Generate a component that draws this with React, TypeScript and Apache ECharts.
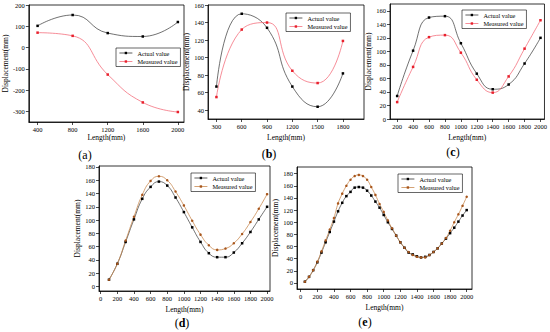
import React, { useEffect, useRef } from "react";
import * as echarts from "echarts";

// ---- data ----
const xA = [400, 800, 1200, 1600, 2000];
const actualA = [102, 153, 68, 52, 120];
const measuredA = [70, 55, -127, -258, -303];

const xB = [300, 600, 900, 1200, 1500, 1800];
const actualB = [67, 150, 134, 67, 44, 82];
const measuredB = [55, 132, 140, 85, 71, 119];

const xC = [200, 400, 600, 800, 1000, 1200, 1400, 1600, 1800, 2000];
const actualC = [34, 101, 150, 152, 112, 67, 44, 51, 82, 120];
const measuredC = [25, 77, 121, 124, 98, 58, 39, 63, 104, 146];

const xD = [100, 200, 300, 400, 500, 600, 700, 800, 900, 1000, 1100, 1200, 1300, 1400, 1500, 1600, 1700, 1800, 1900, 2000];
const actualD = [10, 34, 67, 101, 132, 150, 158, 152, 134, 112, 89, 67, 50, 44, 44, 51, 65, 82, 101, 120];
const measuredD = [10, 34, 69, 105, 138, 159, 166, 160, 143, 122, 99, 78, 62, 55, 57, 65, 79, 97, 117, 139];

const xE = [50, 100, 150, 200, 250, 300, 350, 400, 450, 500, 550, 600, 650, 700, 750, 800, 850, 900, 950, 1000,
  1050, 1100, 1150, 1200, 1250, 1300, 1350, 1400, 1450, 1500, 1550, 1600, 1650, 1700, 1750, 1800, 1850, 1900, 1950, 2000];
const actualE = [2, 10, 21, 34, 50, 67, 84, 101, 118, 132, 143, 150, 157, 158, 157, 152, 144, 134, 124, 112,
  100, 89, 78, 67, 58, 50, 47, 44, 42, 43, 46, 51, 57, 65, 73, 82, 91, 101, 111, 120];
const measuredE = [2, 10, 21, 35, 52, 70, 88, 107, 131, 147, 160, 170, 176, 178, 176, 170, 158, 145, 130, 117,
  103, 90, 78, 67, 58, 51, 46, 43, 42, 42, 46, 51, 57, 65, 74, 86, 100, 113, 127, 142];

const ticksA_x = [400, 800, 1200, 1600, 2000];
const ticksA_y = [-300, -200, -100, 0, 100, 200];
const ticksB_x = [300, 600, 900, 1200, 1500, 1800];
const ticksB_y = [40, 60, 80, 100, 120, 140, 160];
const ticksC_x = [200, 400, 600, 800, 1000, 1200, 1400, 1600, 1800, 2000];
const ticksC_y = [0, 20, 40, 60, 80, 100, 120, 140, 160];
const ticksDE_x = [0, 200, 400, 600, 800, 1000, 1200, 1400, 1600, 1800, 2000];
const ticksDE_y = [0, 20, 40, 60, 80, 100, 120, 140, 160, 180];

const panelLabels = ["a", "b", "c", "d", "e"];
const seriesNames = ["Actual value", "Measured value"];

const FONT = "'Liberation Serif', 'Times New Roman', serif";

export default function App() {
  const ref = useRef<HTMLDivElement>(null);

  useEffect(() => {
    if (!ref.current) return;
    const chart = echarts.init(ref.current, undefined, { renderer: "svg" });

    const zip = (xs: number[], ys: number[]) => xs.map((x, i) => [x, ys[i]]);
    const plain = (v: number) => String(v);

    const grids = [
      { left: 26, top: 5, width: 158, height: 117 },
      { left: 208, top: 5, width: 156, height: 114 },
      { left: 390, top: 4, width: 155, height: 115 },
      { left: 99, top: 166, width: 171, height: 125 },
      { left: 297, top: 167, width: 175, height: 122 },
    ];

    const xCfg = [
      { min: 300, max: 2070, ticks: ticksA_x, gap: 11 },
      { min: 200, max: 2050, ticks: ticksB_x, gap: 14 },
      { min: 110, max: 2050, ticks: ticksC_x, gap: 14 },
      { min: -20, max: 2035, ticks: ticksDE_x, gap: 14 },
      { min: -45, max: 2064, ticks: ticksDE_x, gap: 14 },
    ];
    const yCfg = [
      { min: -350, max: 200, ticks: ticksA_y, gap: 15 },
      { min: 30, max: 160, ticks: ticksB_y, gap: 14 },
      { min: 0, max: 170, ticks: ticksC_y, gap: 15 },
      { min: -7, max: 181.5, ticks: ticksDE_y, gap: 15 },
      { min: -10, max: 191, ticks: ticksDE_y, gap: 13 },
    ];

    const axisCommon = {
      axisLine: { show: true, onZero: false, lineStyle: { color: "#000", width: 0.8 } },
      axisTick: { show: true, inside: false, length: 3, lineStyle: { color: "#000", width: 0.7 } },
      splitLine: { show: false },
      nameTextStyle: { fontFamily: FONT, fontSize: 7.5, color: "#000" },
    };

    const xAxis = xCfg.map((c, i) => ({
      type: "value",
      gridIndex: i,
      min: c.min,
      max: c.max,
      name: "Length(mm)",
      nameLocation: "middle",
      nameGap: c.gap,
      ...axisCommon,
      axisTick: { ...axisCommon.axisTick, customValues: c.ticks },
      axisLabel: { customValues: c.ticks, formatter: plain, fontFamily: FONT, fontSize: 6.5, color: "#000", margin: 4 },
    }));

    const yAxis = yCfg.map((c, i) => ({
      type: "value",
      gridIndex: i,
      min: c.min,
      max: c.max,
      name: "Displacement(mm)",
      nameLocation: "middle",
      nameGap: c.gap,
      ...axisCommon,
      axisTick: { ...axisCommon.axisTick, customValues: c.ticks },
      axisLabel: { customValues: c.ticks, formatter: plain, fontFamily: FONT, fontSize: 6.5, color: "#000", margin: 4 },
    }));

    const redLine = "#f4707e";
    const redDot = "#e8202c";
    const orangeLine = "#c98a52";
    const orangeDot = "#a8561c";

    const datasets = [
      [xA, actualA, measuredA],
      [xB, actualB, measuredB],
      [xC, actualC, measuredC],
      [xD, actualD, measuredD],
      [xE, actualE, measuredE],
    ];

    const series: any[] = [];
    datasets.forEach(([xs, act, mea], i) => {
      const late = i >= 3;
      series.push({
        type: "line",
        name: seriesNames[0],
        xAxisIndex: i,
        yAxisIndex: i,
        data: zip(xs, act),
        smooth: 0.5,
        symbol: "rect",
        symbolSize: 2.5,
        lineStyle: { color: "#333", width: 0.7 },
        itemStyle: { color: "#000" },
      });
      series.push({
        type: "line",
        name: seriesNames[1],
        xAxisIndex: i,
        yAxisIndex: i,
        data: zip(xs, mea),
        smooth: 0.5,
        symbol: late ? "circle" : "rect",
        symbolSize: 2.5,
        lineStyle: { color: late ? orangeLine : redLine, width: 0.8 },
        itemStyle: { color: late ? orangeDot : redDot },
      });
    });

    const legendPos = [
      { left: 116, top: 48 },
      { left: 286, top: 13 },
      { left: 462, top: 10 },
      { left: 191, top: 173 },
      { left: 398, top: 174 },
    ];
    const legend = legendPos.map((p, i) => {
      const late = i >= 3;
      return {
        ...p,
        orient: "vertical",
        borderColor: "#000",
        borderWidth: 0.6,
        padding: [2, 3, 2, 3],
        itemGap: 2.5,
        itemWidth: 13,
        itemHeight: 3,
        textStyle: { fontFamily: FONT, fontSize: 6.3, color: "#000" },
        data: [
          { name: seriesNames[0], itemStyle: { color: "#000" }, lineStyle: { color: "#333", width: 0.8 } },
          {
            name: seriesNames[1],
            itemStyle: { color: late ? orangeDot : redDot },
            lineStyle: { color: late ? orangeLine : redLine, width: 0.8 },
          },
        ],
      };
    });

    const labelPos = [
      { x: 85, y: 155 },
      { x: 269, y: 154 },
      { x: 453, y: 152 },
      { x: 182, y: 323 },
      { x: 365, y: 322 },
    ];
    const graphic = labelPos.map((p, i) => ({
      type: "text",
      x: p.x,
      y: p.y,
      style: {
        text: i === 0 ? "(a)" : "({b|" + panelLabels[i] + "})",
        fontFamily: FONT,
        fontSize: 12,
        fill: "#000",
        align: "center",
        verticalAlign: "middle",
        rich: { b: { fontFamily: FONT, fontSize: 12, fontWeight: "bold", fill: "#000" } },
      },
    }));

    chart.setOption({
      animation: false,
      backgroundColor: "#fff",
      grid: grids.map((g) => ({ ...g, show: true, borderColor: "#000", borderWidth: 0.8, backgroundColor: "transparent" })),
      xAxis,
      yAxis,
      series,
      legend,
      graphic,
    });

    return () => chart.dispose();
  }, []);

  return (
    <div
      ref={ref}
      style={{ position: "fixed", left: 0, top: 0, width: 550, height: 332, background: "#fff" }}
    />
  );
}
